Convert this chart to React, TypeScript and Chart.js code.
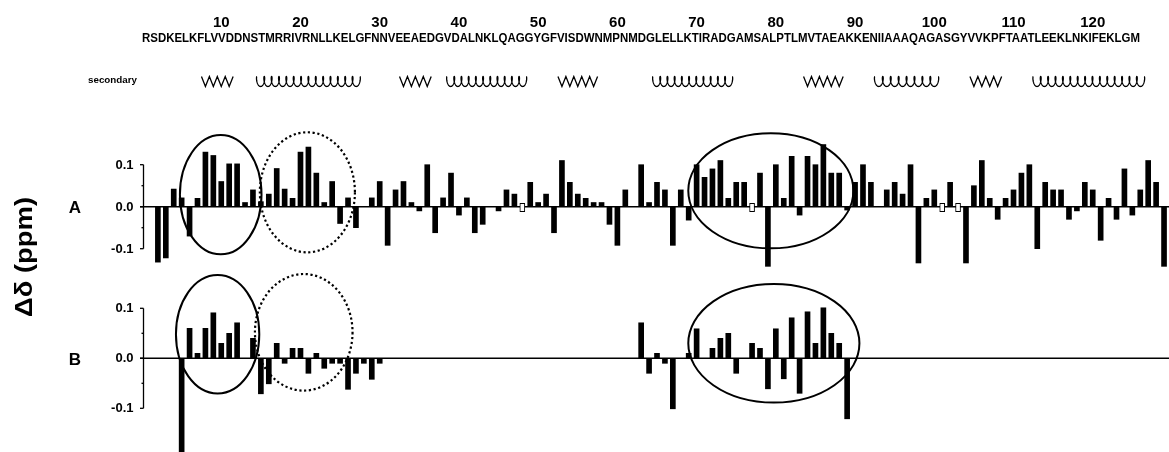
import { useEffect, useRef } from "react";
import Chart from "chart.js/auto";

// ---------- data ----------
const residueNumbers: number[] = Array.from({ length: 129 }, (_, k) => k + 1);
const sequenceText =
  "RSDKELKFLVVDDNSTMRRIVRNLLKELGFNNVEEAEDGVDALNKLQAGGYGFVISDWNMPNMDGLELLKTIRADGAMSALPTLMVTAEAKKENIIAAAQAGASGYVVKPFTAATLEEKLNKIFEKLGM";
const numberedResidues = [10, 20, 30, 40, 50, 60, 70, 80, 90, 100, 110, 120];

const helixStart = [15, 39, 65, 93, 113];
const helixEnd = [27, 48, 74, 100, 126];
const strandStart = [8, 33, 53, 84, 105];
const strandEnd = [11, 36, 57, 88, 108];

// panel A chemical shift changes, residues 1..129
const shiftA: (number | null)[] = [
  null, -0.132, -0.122, 0.042, 0.021, -0.07, 0.02, 0.13, 0.122, 0.06,
  0.102, 0.102, 0.01, 0.04, 0.012, 0.03, 0.091, 0.042, 0.02, 0.13,
  0.142, 0.08, 0.01, 0.06, -0.04, 0.021, -0.05, 0, 0.021, 0.06,
  -0.092, 0.04, 0.06, 0.01, -0.01, 0.1, -0.062, 0.021, 0.08, -0.02,
  0.021, -0.062, -0.042, 0, -0.01, 0.04, 0.03, null, 0.058, 0.01,
  0.03, -0.062, 0.11, 0.058, 0.03, 0.02, 0.01, 0.01, -0.042, -0.092,
  0.04, 0, 0.1, 0.01, 0.058, 0.04, -0.092, 0.04, -0.032, 0.1,
  0.07, 0.09, 0.11, 0.02, 0.058, 0.058, null, 0.08, -0.142, 0.1,
  0.02, 0.12, -0.02, 0.12, 0.1, 0.148, 0.08, 0.08, -0.008, 0.058,
  0.1, 0.058, 0, 0.04, 0.058, 0.03, 0.1, -0.134, 0.02, 0.04,
  null, 0.058, null, -0.134, 0.05, 0.11, 0.02, -0.03, 0.02, 0.04,
  0.08, 0.1, -0.1, 0.058, 0.04, 0.04, -0.03, -0.01, 0.058, 0.04,
  -0.08, 0.02, -0.03, 0.09, -0.02, 0.04, 0.11, 0.058, -0.142,
];
const undeterminedA = [48, 77, 101, 103];
const undeterminedRange: [number, number] = [0.008, -0.012];

// panel B chemical shift changes, residues 1..129
const shiftB: (number | null)[] = [
  null, null, null, null, -0.2, 0.06, 0.01, 0.06, 0.091, 0.03,
  0.05, 0.071, null, 0.04, -0.071, -0.051, 0.03, -0.01, 0.02, 0.02,
  -0.03, 0.01, -0.02, -0.01, -0.01, -0.062, -0.03, -0.01, -0.042, -0.01,
  null, null, null, null, null, null, null, null, null, null,
  null, null, null, null, null, null, null, null, null, null,
  null, null, null, null, null, null, null, null, null, null,
  null, null, 0.071, -0.03, 0.01, -0.01, -0.101, null, 0.01, 0.059,
  null, 0.02, 0.04, 0.05, -0.03, null, 0.03, 0.02, -0.061, 0.059,
  -0.041, 0.081, -0.07, 0.093, 0.03, 0.101, 0.05, 0.03, -0.121, null,
  null, null, null, null, null, null, null, null, null, null,
  null, null, null, null, null, null, null, null, null, null,
  null, null, null, null, null, null, null, null, null, null,
  null, null, null, null, null, null, null, null, null,
];

const yTickValues = [0.1, 0.05, 0, -0.05, -0.1];
const yTickLabels = ["0.1", "", "0.0", "", "-0.1"];
const panelNames = ["A", "B"];
const yAxisTitle = "Δδ (ppm)";
const secondaryLabel = "secondary";

// highlighted regions (ellipses), in residue / ppm units
const circlePanel = [0, 0, 0, 1, 1, 1];
const circleResidue = [9.93, 20.87, 79.37, 9.54, 20.41, 79.75];
const circleShift = [0.0286, 0.0343, 0.0379, 0.0482, 0.052, 0.03];
const circleResRadius = [5.15, 6.0, 10.42, 5.26, 6.16, 10.8];
const circleShiftRadius = [0.142, 0.143, 0.137, 0.1184, 0.1166, 0.1186];
const circleDotted = [false, true, false, false, true, false];

// ---------- layout ----------
const W = 1169;
const H = 452;
const TOP = 120;
const A_ZERO = 206.7;
const A_PX = 420;
const B_ZERO = 358.3;
const B_PX = 500;
const FONT = '"Liberation Sans", Arial, Helvetica, sans-serif';

const drawPlugin = {
  id: "figureDecor",
  beforeDatasetsDraw(chart: any) {
    const ctx = chart.ctx;
    const ca = chart.chartArea;
    ctx.save();
    ctx.strokeStyle = "#000";
    ctx.lineWidth = 1.6;
    ["yA", "yB"].forEach((id) => {
      const y = chart.scales[id].getPixelForValue(0);
      ctx.beginPath();
      ctx.moveTo(ca.left - 6, y);
      ctx.lineTo(chart.width, y);
      ctx.stroke();
    });
    ctx.restore();
  },
  afterDraw(chart: any) {
    const ctx = chart.ctx;
    const ca = chart.chartArea;
    const xs = chart.scales.x;
    const px = (res: number) => xs.getPixelForValue(res - 1);
    ctx.save();
    ctx.fillStyle = "#000";
    ctx.strokeStyle = "#000";

    // y axes
    const axisX = ca.left - 2.5;
    ["yA", "yB"].forEach((id, p) => {
      const s = chart.scales[id];
      ctx.lineWidth = 1.3;
      ctx.beginPath();
      ctx.moveTo(axisX, s.getPixelForValue(0.1));
      ctx.lineTo(axisX, s.getPixelForValue(-0.1));
      ctx.stroke();
      ctx.font = `bold 13px ${FONT}`;
      ctx.textAlign = "right";
      ctx.textBaseline = "middle";
      yTickValues.forEach((v, k) => {
        const y = s.getPixelForValue(v);
        const major = yTickLabels[k] !== "";
        ctx.beginPath();
        ctx.moveTo(axisX - (major ? 3.5 : 2), y);
        ctx.lineTo(axisX, y);
        ctx.stroke();
        if (major) ctx.fillText(yTickLabels[k], axisX - 10, y + 0.5);
      });
      ctx.font = `bold 17px ${FONT}`;
      ctx.textAlign = "center";
      ctx.fillText(panelNames[p], 75, s.getPixelForValue(0) + 2);
    });

    // y title
    ctx.save();
    ctx.translate(26, 257);
    ctx.rotate(-Math.PI / 2);
    ctx.font = `bold 23px ${FONT}`;
    const tw = ctx.measureText(yAxisTitle).width;
    ctx.scale(120 / tw, 1);
    ctx.textAlign = "center";
    ctx.textBaseline = "middle";
    ctx.fillText(yAxisTitle, 0, 0);
    ctx.restore();

    // residue numbers
    ctx.font = `bold 15px ${FONT}`;
    ctx.textAlign = "center";
    ctx.textBaseline = "alphabetic";
    numberedResidues.forEach((r) => ctx.fillText(String(r), px(r), 27));

    // sequence
    ctx.save();
    ctx.font = `bold 12px ${FONT}`;
    ctx.textAlign = "left";
    const sw = ctx.measureText(sequenceText).width;
    ctx.translate(142, 41.5);
    ctx.scale(998 / sw, 1);
    ctx.fillText(sequenceText, 0, 0);
    ctx.restore();

    // secondary structure
    ctx.font = `bold 9.8px ${FONT}`;
    ctx.textAlign = "left";
    ctx.fillText(secondaryLabel, 88, 83);
    const yc = 81.5;
    ctx.lineWidth = 1.3;
    strandStart.forEach((s0, k) => {
      const x0 = px(s0 - 0.5);
      const x1 = px(strandEnd[k] + 0.5);
      const n = Math.max(1, Math.round((x1 - x0) / 8));
      const w = (x1 - x0) / n;
      ctx.beginPath();
      ctx.moveTo(x0, yc - 5);
      for (let i = 0; i < n; i++) {
        ctx.lineTo(x0 + (i + 0.5) * w, yc + 5);
        ctx.lineTo(x0 + (i + 1) * w, yc - 5);
      }
      ctx.stroke();
    });
    helixStart.forEach((h0, k) => {
      const x0 = px(h0 - 0.5);
      const x1 = px(helixEnd[k] + 0.5);
      const n = Math.max(1, Math.round((x1 - x0) / 7.5));
      const per = (x1 - x0) / n;
      const a = per / (2 * Math.PI);
      const b = a * 1.6;
      ctx.beginPath();
      const steps = n * 48;
      for (let i = 0; i <= steps; i++) {
        const t = (i / 48) * 2 * Math.PI;
        const x = x0 + a * t - b * Math.sin(t);
        const y = yc - 5 * Math.cos(t);
        if (i === 0) ctx.moveTo(x, y);
        else ctx.lineTo(x, y);
      }
      ctx.stroke();
    });

    // ellipses
    circlePanel.forEach((p, k) => {
      const s = chart.scales[p === 0 ? "yA" : "yB"];
      const cx = px(circleResidue[k]);
      const rx = Math.abs(px(circleResidue[k] + circleResRadius[k]) - cx);
      const cy = s.getPixelForValue(circleShift[k]);
      const ry = Math.abs(s.getPixelForValue(circleShift[k] + circleShiftRadius[k]) - cy);
      ctx.beginPath();
      ctx.ellipse(cx, cy, rx, ry, 0, 0, 2 * Math.PI);
      if (circleDotted[k]) {
        ctx.setLineDash([2.2, 2.6]);
        ctx.lineWidth = 2.2;
      } else {
        ctx.setLineDash([]);
        ctx.lineWidth = 2;
      }
      ctx.stroke();
    });
    ctx.setLineDash([]);
    ctx.restore();
  },
};

export default function App() {
  const ref = useRef<HTMLCanvasElement | null>(null);
  useEffect(() => {
    if (!ref.current) return;
    const hollowData = residueNumbers.map((r) =>
      undeterminedA.includes(r) ? undeterminedRange : null
    );
    const aMax = (A_ZERO - TOP) / A_PX;
    const aMin = aMax - (H - TOP) / A_PX;
    const bMax = (B_ZERO - TOP) / B_PX;
    const bMin = bMax - (H - TOP) / B_PX;
    const chart = new Chart(ref.current, {
      type: "bar",
      data: {
        labels: residueNumbers.map(String),
        datasets: [
          {
            label: "A",
            data: shiftA,
            yAxisID: "yA",
            backgroundColor: "#000",
            borderWidth: 0,
            barThickness: 5,
            grouped: false,
          } as any,
          {
            label: "A undetermined",
            data: hollowData,
            yAxisID: "yA",
            backgroundColor: "#fff",
            borderColor: "#000",
            borderWidth: 1,
            borderSkipped: false,
            barThickness: 5,
            grouped: false,
          } as any,
          {
            label: "B",
            data: shiftB,
            yAxisID: "yB",
            backgroundColor: "#000",
            borderWidth: 0,
            barThickness: 5,
            grouped: false,
          } as any,
        ],
      },
      options: {
        responsive: false,
        maintainAspectRatio: false,
        animation: false,
        layout: { padding: { left: 146, right: 1, top: TOP, bottom: 0 } },
        plugins: {
          legend: { display: false },
          tooltip: { enabled: false },
        },
        scales: {
          x: { type: "category", display: false, offset: true },
          yA: { type: "linear", display: false, min: aMin, max: aMax },
          yB: { type: "linear", display: false, min: bMin, max: bMax },
        },
      },
      plugins: [drawPlugin],
    });
    return () => chart.destroy();
  }, []);
  return (
    <div style={{ position: "absolute", left: 0, top: 0, width: W, height: H, background: "#fff" }}>
      <canvas ref={ref} width={W} height={H} style={{ display: "block", width: W, height: H }} />
    </div>
  );
}
